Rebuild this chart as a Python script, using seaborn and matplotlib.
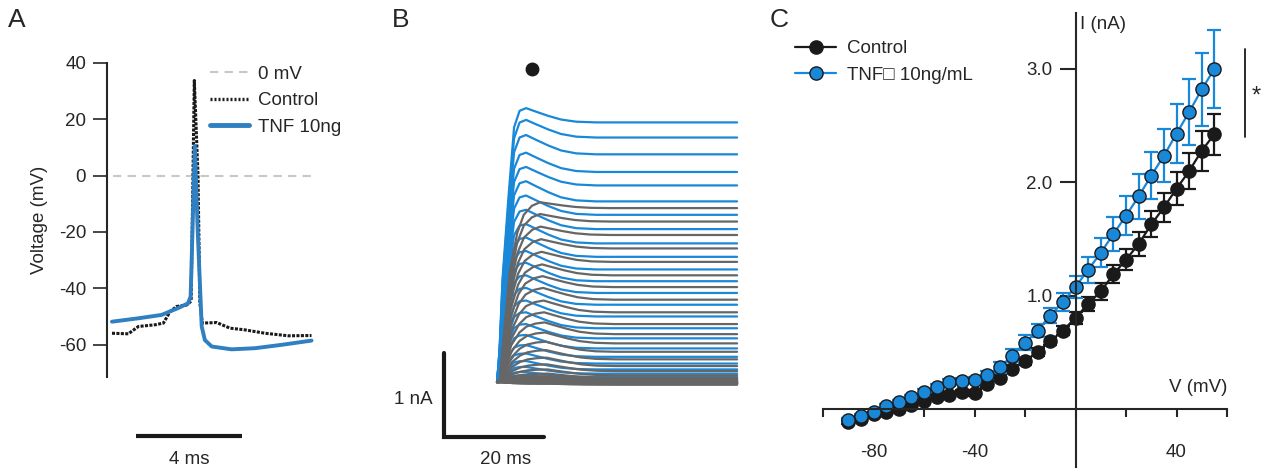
import matplotlib
matplotlib.use("Agg")
import matplotlib.pyplot as plt
from matplotlib.lines import Line2D
import numpy as np
import pandas as pd
import seaborn as sns

# ---- panel A: action potential (time in ms, voltage in mV) ----
ap_ctrl_t = [0, 0.62, 1.0, 1.63, 1.95, 2.2, 2.45, 2.83, 3.0, 3.12, 3.26, 3.33,
             3.42, 3.97, 4.47, 5.04, 5.8, 6.68, 7.56]
ap_ctrl_v = [-55.9, -56.1, -53.5, -52.9, -52.3, -48.2, -46.4, -45.9, -44.5, 33.7,
             0.0, -45.0, -52.3, -52.1, -54.1, -54.7, -55.9, -56.8, -56.7]
ap_tnf_t = [0, 1.0, 1.88, 2.5, 2.88, 2.98, 3.05, 3.14, 3.25, 3.4, 3.52, 3.78,
            4.53, 5.42, 6.43, 7.56]
ap_tnf_v = [-51.8, -50.6, -49.4, -47.0, -45.3, -42.9, -20.0, 10.5, -20.0, -53.5,
            -58.3, -60.6, -61.6, -61.2, -60.0, -58.5]
ap_yticks = [-60, -40, -20, 0, 20, 40]

# ---- panel B: current traces (nA), one value per trace ----
b_tnf_peak = [3.26, 3.12, 2.94, 2.73, 2.56, 2.39, 2.22, 2.05, 1.88, 1.72, 1.56, 1.42,
              1.27, 1.12, 0.97, 0.83, 0.69, 0.56, 0.44, 0.34, 0.25, 0.18, 0.12, 0.08,
              0.05, 0.03, 0.02, 0.01, 0.0, 0.0]
b_tnf_end = [3.09, 2.91, 2.71, 2.50, 2.34, 2.15, 1.99, 1.82, 1.65, 1.49, 1.34, 1.20,
             1.06, 0.92, 0.78, 0.64, 0.52, 0.40, 0.30, 0.22, 0.15, 0.10, 0.06, 0.04,
             0.02, 0.01, 0.0, -0.01, -0.01, -0.02]
b_ctrl_peak = [2.14, 2.00, 1.85, 1.70, 1.55, 1.40, 1.26, 1.12, 0.97, 0.83, 0.71, 0.59,
               0.48, 0.38, 0.29, 0.21, 0.15, 0.10, 0.07, 0.05, 0.03, 0.02, 0.01, 0.0,
               0.0, -0.01, -0.01, -0.01, -0.02, -0.02]
b_ctrl_end = [2.07, 1.91, 1.75, 1.59, 1.43, 1.27, 1.13, 0.98, 0.83, 0.69, 0.57, 0.46,
              0.36, 0.27, 0.19, 0.13, 0.08, 0.05, 0.03, 0.02, 0.01, 0.0, 0.0, -0.01,
              -0.01, -0.02, -0.02, -0.02, -0.03, -0.03]
b_ctrl_peak_t = [8.6, 8.6, 8.7, 8.8, 8.9, 9.0, 9.1, 9.2, 9.3, 9.4, 9.5, 9.6, 9.7, 9.8,
                 9.9, 10.0, 10.1, 10.2, 10.3, 10.4, 10.5, 10.5, 10.5, 10.5, 10.5,
                 10.5, 10.5, 10.5, 10.5, 10.5]
# trace shape
tnf_rise_t = [0, 0.5, 1.1, 2.3, 3.4, 4.5, 5.8]
tnf_rise_frac = [0, 0.12, 0.38, 0.68, 0.93, 0.99, 1.0]
ctrl_rise_tfrac = [0, 0.07, 0.17, 0.30, 0.47, 0.62, 0.81, 1.0]
ctrl_rise_frac = [0, 0.02, 0.30, 0.62, 0.83, 0.93, 0.98, 1.0]
decay_dt = [2, 4.5, 7, 10, 14]
decay_frac = [0.75, 0.45, 0.2, 0.05, 0.0]
trace_end_t = 48

# ---- panel C: I-V curve ----
iv_v = list(range(-90, 60, 5))
iv_ctrl = [-0.11, -0.08, -0.044, -0.023, 0.0, 0.035, 0.073, 0.11, 0.13, 0.15, 0.147,
           0.22, 0.28, 0.36, 0.425, 0.51, 0.60, 0.695, 0.806, 0.93, 1.04, 1.19, 1.32,
           1.457, 1.63, 1.78, 1.945, 2.10, 2.28, 2.425]
iv_ctrl_err = [0.02, 0.02, 0.02, 0.02, 0.02, 0.02, 0.02, 0.02, 0.02, 0.025, 0.025,
               0.025, 0.03, 0.03, 0.03, 0.035, 0.035, 0.04, 0.05, 0.065, 0.075, 0.08,
               0.095, 0.105, 0.115, 0.13, 0.145, 0.155, 0.175, 0.18]
iv_tnf = [-0.094, -0.059, -0.02, 0.03, 0.067, 0.11, 0.155, 0.2, 0.24, 0.25, 0.26,
          0.30, 0.37, 0.475, 0.587, 0.695, 0.827, 0.947, 1.08, 1.23, 1.38, 1.545,
          1.707, 1.877, 2.06, 2.235, 2.43, 2.62, 2.82, 3.0]
iv_tnf_err = [0.02, 0.02, 0.02, 0.02, 0.02, 0.02, 0.025, 0.025, 0.03, 0.03, 0.03,
              0.035, 0.05, 0.06, 0.065, 0.06, 0.065, 0.08, 0.095, 0.114, 0.128, 0.147,
              0.17, 0.195, 0.21, 0.235, 0.26, 0.29, 0.32, 0.34]

BLUE_A = "#2f7fc1"
BLUE = "#1a88d8"
GRAY = "#666666"
BLACK = "#1a1a1a"
FS = 13.5


def build_traces(peaks, ends, rise_t_list, rise_frac):
    rows = []
    for i, (pk, en) in enumerate(zip(peaks, ends)):
        rise_t = rise_t_list[i]
        tp = rise_t[-1]
        for t, f in zip(rise_t, rise_frac):
            rows.append((i, t, pk * f))
        for dt, f in zip(decay_dt, decay_frac):
            rows.append((i, tp + dt, en + (pk - en) * f))
        rows.append((i, trace_end_t, en))
    return pd.DataFrame(rows, columns=["trace", "t", "I"])


def main():
    sns.set_style("ticks")
    plt.rcParams["font.family"] = ["Liberation Sans", "DejaVu Sans"]
    plt.rcParams["font.size"] = FS

    fig = plt.figure(figsize=(12.66, 4.72), dpi=100)

    # ---------------- A ----------------
    axA = fig.add_axes([0.0845, 0.2019, 0.1682, 0.6653])
    axA.axhline(0, color="#c8c8c8", lw=1.5, dashes=(4, 3), xmin=0.03, xmax=0.96)
    sns.lineplot(x=ap_ctrl_t, y=ap_ctrl_v, ax=axA, color=BLACK, lw=2.2,
                 linestyle=(0, (1.0, 0.45)), sort=False, estimator=None)
    sns.lineplot(x=ap_tnf_t, y=ap_tnf_v, ax=axA, color=BLUE_A, lw=2.8,
                 sort=False, estimator=None)
    axA.set_xlim(-0.189, 7.879)
    axA.set_ylim(-71.3, 40)
    axA.set_yticks(ap_yticks)
    axA.set_yticklabels([str(v) for v in ap_yticks])
    axA.set_xticks([])
    for s in ["top", "right", "bottom"]:
        axA.spines[s].set_visible(False)
    axA.spines["left"].set_linewidth(1.5)
    axA.tick_params(axis="y", length=10, width=1.2, pad=5, labelsize=FS)
    axA.set_ylabel("Voltage (mV)", fontsize=FS, labelpad=8)
    # 4 ms scale bar
    axA.plot([0.91, 4.91], [-92.3, -92.3], color=BLACK, lw=3, clip_on=False,
             solid_capstyle="butt")
    axA.text(2.91, -100.8, "4 ms", ha="center", va="center", fontsize=FS)
    handles = [Line2D([], [], color="#c8c8c8", lw=1.5, dashes=(4, 3)),
               Line2D([], [], color=BLACK, lw=2.4, linestyle=(0, (0.6, 0.6))),
               Line2D([], [], color=BLUE_A, lw=3.5)]
    axA.legend(handles, ["0 mV", "Control", "TNF 10ng"], loc="upper left",
               bbox_to_anchor=(0.484, 0.99), frameon=False, fontsize=FS,
               borderpad=0, borderaxespad=0, handlelength=2.1,
               handletextpad=0.45, labelspacing=0.5)

    # ---------------- B ----------------
    axB = fig.add_axes([0.3476, 0.0678, 0.2449, 0.8475])
    tnf_df = build_traces(b_tnf_peak, b_tnf_end,
                          [tnf_rise_t] * len(b_tnf_peak), tnf_rise_frac)
    ctrl_df = build_traces(b_ctrl_peak, b_ctrl_end,
                           [[f * tp for f in ctrl_rise_tfrac] for tp in b_ctrl_peak_t],
                           ctrl_rise_frac)
    sns.lineplot(data=tnf_df, x="t", y="I", units="trace", estimator=None,
                 color=BLUE, lw=1.6, ax=axB)
    sns.lineplot(data=ctrl_df, x="t", y="I", units="trace", estimator=None,
                 color=GRAY, lw=1.6, ax=axB)
    axB.set_xlim(-11.4, 50.6)
    axB.set_ylim(-0.690, 4.071)
    axB.axis("off")
    axB.plot([6.94], [3.73], "o", color=BLACK, ms=9)
    axB.plot([-10.7, -10.7, 9.3], [0.345, -0.655, -0.655], color=BLACK, lw=3,
             solid_joinstyle="miter", clip_on=False)
    axB.text(-12.8, -0.21, "1 nA", ha="right", va="center", fontsize=FS)
    axB.text(1.6, -0.92, "20 ms", ha="center", va="center", fontsize=FS)

    # ---------------- C ----------------
    axC = fig.add_axes([0.6501, 0.0106, 0.3191, 0.9619])
    for mean, err, col, face in [(iv_ctrl, iv_ctrl_err, BLACK, BLACK),
                                 (iv_tnf, iv_tnf_err, BLUE, BLUE)]:
        axC.errorbar(iv_v, mean, yerr=err, fmt="none", ecolor=col, elinewidth=1.6,
                     capsize=4.7, capthick=1.6, clip_on=False)
        sns.lineplot(x=iv_v, y=mean, ax=axC, color=col, lw=1.6, marker="o",
                     markersize=9.5, markerfacecolor=face, markeredgecolor=BLACK,
                     markeredgewidth=1.0, estimator=None, clip_on=False)
    axC.set_xlim(-100, 60)
    axC.set_ylim(-0.507, 3.493)
    axC.spines["left"].set_position(("data", 0))
    axC.spines["bottom"].set_position(("data", 0))
    axC.spines["top"].set_visible(False)
    axC.spines["right"].set_visible(False)
    axC.spines["left"].set_linewidth(1.5)
    axC.spines["bottom"].set_linewidth(1.5)
    axC.set_xticks(list(range(-100, 61, 20)))
    axC.set_xticklabels(["" if v not in (-80, -40, 40) else str(v)
                         for v in range(-100, 61, 20)])
    axC.set_yticks([1, 2, 3])
    axC.set_yticklabels(["1.0", "2.0", "3.0"])
    axC.tick_params(axis="x", length=6, width=1.5, pad=19, labelsize=FS)
    axC.tick_params(axis="y", length=11.5, width=1.5, pad=5, labelsize=FS)
    axC.set_xlabel("")
    axC.set_ylabel("")
    axC.text(1.6, 3.39, "I (nA)", ha="left", va="center", fontsize=FS)
    axC.text(60, 0.19, "V (mV)", ha="right", va="center", fontsize=FS)
    # significance bar
    axC.plot([67.3, 67.3], [2.40, 3.18], color=BLACK, lw=1.3, clip_on=False)
    axC.text(71.7, 2.76, "*", ha="center", va="center", fontsize=17)
    handles = [Line2D([], [], color=BLACK, lw=1.6, marker="o", markersize=9.5,
                      markerfacecolor=BLACK, markeredgecolor=BLACK),
               Line2D([], [], color=BLUE, lw=1.6, marker="o", markersize=9.5,
                      markerfacecolor=BLUE, markeredgecolor=BLACK)]
    axC.legend(handles, ["Control", "TNF\u25a1 10ng/mL"], loc="upper left",
               bbox_to_anchor=(-0.069, 0.9405), frameon=False, fontsize=FS,
               borderpad=0, borderaxespad=0, handlelength=2.2,
               handletextpad=0.55, labelspacing=0.5)

    # panel letters
    for x, lab in [(8, "A"), (392, "B"), (770, "C")]:
        fig.text(x / 1266, 1 - 20 / 472, lab, ha="left", va="center", fontsize=19)

    fig.savefig("out.png", dpi=100)


if __name__ == "__main__":
    main()
